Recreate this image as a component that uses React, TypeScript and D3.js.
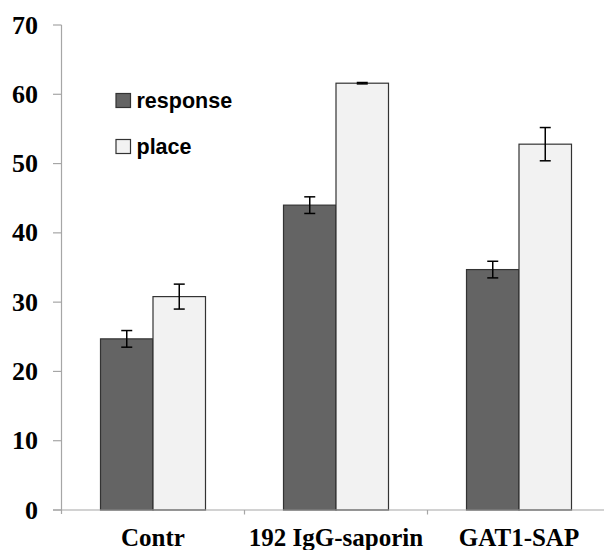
import React from "react";
import * as d3 from "d3";

const categories = ["Contr", "192 IgG-saporin", "GAT1-SAP"];
const seriesNames = ["response", "place"];
const responseValues = [24.7, 44.0, 34.7];
const responseErrors = [1.2, 1.2, 1.2];
const placeValues = [30.8, 61.6, 52.8];
const placeErrors = [1.8, 0.1, 2.4];
const yTicks = [0, 10, 20, 30, 40, 50, 60, 70];

const W = 604;
const H = 550;
const colors = ["#646464", "#f2f2f2"];

export default function App() {
  const x0 = d3.scaleBand<string>().domain(categories).range([61.5, 610.5]).paddingInner(0).paddingOuter(0);
  const x1 = d3.scaleBand<string>().domain(seriesNames).range([0, x0.bandwidth()]).paddingInner(0).paddingOuter(0.743);
  const y = d3.scaleLinear().domain([0, 70]).range([510, 25]);

  const series = [
    { name: seriesNames[0], values: responseValues, errors: responseErrors, color: colors[0] },
    { name: seriesNames[1], values: placeValues, errors: placeErrors, color: colors[1] },
  ];

  const axisColor = "#a6a6a6";
  const serif = "'Liberation Serif', 'Times New Roman', serif";
  const sans = "'Liberation Sans', Arial, sans-serif";

  return (
    <svg width={W} height={H} style={{ position: "absolute", left: 0, top: 0, background: "#fff" }}>
      <rect x={0} y={0} width={W} height={H} fill="#fff" />
      {series.map((s) =>
        categories.map((c, i) => {
          const bx = (x0(c) as number) + (x1(s.name) as number);
          const bw = x1.bandwidth();
          return (
            <rect
              key={s.name + c}
              x={bx}
              y={y(s.values[i])}
              width={bw}
              height={y(0) - y(s.values[i])}
              fill={s.color}
              stroke="#333"
              strokeWidth={1.2}
            />
          );
        })
      )}
      {series.map((s) =>
        categories.map((c, i) => {
          const cx = (x0(c) as number) + (x1(s.name) as number) + x1.bandwidth() / 2;
          const top = y(s.values[i] + s.errors[i]);
          const bot = y(s.values[i] - s.errors[i]);
          return (
            <g key={"e" + s.name + c} stroke="#000" strokeWidth={1.5}>
              <line x1={cx} x2={cx} y1={top} y2={bot} />
              <line x1={cx - 5.5} x2={cx + 5.5} y1={top} y2={top} />
              <line x1={cx - 5.5} x2={cx + 5.5} y1={bot} y2={bot} />
            </g>
          );
        })
      )}
      <line x1={61.5} x2={61.5} y1={y(70)} y2={514} stroke={axisColor} strokeWidth={1.2} />
      {yTicks.map((t) => (
        <g key={"yt" + t}>
          <line x1={53} x2={61.5} y1={y(t)} y2={y(t)} stroke={axisColor} strokeWidth={1.2} />
          <text
            x={38}
            y={y(t)}
            textAnchor="end"
            dominantBaseline="central"
            fontFamily={serif}
            fontWeight="bold"
            fontSize={26}
            fill="#000"
          >
            {t}
          </text>
        </g>
      ))}
      <line x1={53} x2={W} y1={y(0)} y2={y(0)} stroke={axisColor} strokeWidth={1.2} />
      {categories.slice(1).map((c) => (
        <line key={"xt" + c} x1={x0(c) as number} x2={x0(c) as number} y1={y(0)} y2={514.5} stroke={axisColor} strokeWidth={1.2} />
      ))}
      {categories.map((c) => (
        <text
          key={"xl" + c}
          x={(x0(c) as number) + x0.bandwidth() / 2}
          y={546}
          textAnchor="middle"
          fontFamily={serif}
          fontWeight="bold"
          fontSize={25}
          fill="#000"
        >
          {c}
        </text>
      ))}
      {series.map((s, i) => (
        <g key={"lg" + s.name} transform={`translate(116, ${93.5 + i * 46})`}>
          <rect x={0} y={0} width={14.5} height={14} fill={s.color} stroke="#333" strokeWidth={1.2} />
          <text x={20.5} y={14} fontFamily={sans} fontWeight="bold" fontSize={21.5} fill="#000">
            {s.name}
          </text>
        </g>
      ))}
    </svg>
  );
}
